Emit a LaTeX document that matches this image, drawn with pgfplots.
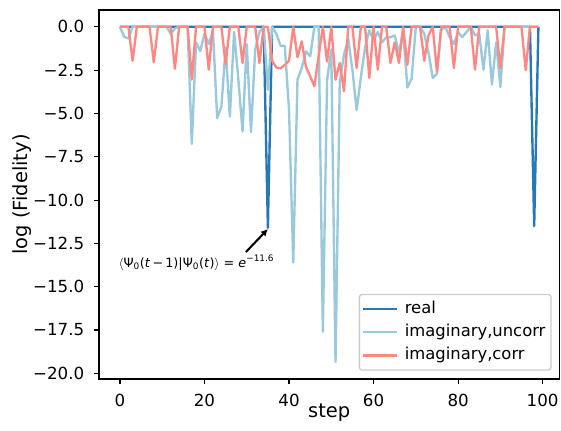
\documentclass[border=0pt]{standalone}
\usepackage{fontspec}
\setmainfont{DejaVu Sans}
\usepackage{pgfplots}
\usepackage{pgfplotstable}
\pgfplotsset{compat=1.18}
\usetikzlibrary{arrows.meta}
\definecolor{realc}{HTML}{2878B5}
\definecolor{uncc}{HTML}{9AC9DB}
\definecolor{corc}{HTML}{FF8884}

\pgfplotstableread{
s real uncorr corr
0 0 0 0
1 0 -0.58 0
2 0 -0.67 0
3 0 0 -1.96
4 0 0 0
5 0 0 0
6 0 0 0
7 0 0 0
8 0 0 -2.05
9 0 0 0
10 0 0 0
11 0 0 0
12 0 -0.4 0
13 0 -0.1 -2.42
14 0 0 0
15 0 0 0
16 0 0 0
17 0 -6.75 -3.05
18 0 -0.9 0
19 0 -1.4 0
20 0 -0.4 0
21 0 -1.0 -2.47
22 0 -0.2 0
23 0 -5.27 0
24 0 -4.6 0
25 0 -1.2 -2.15
26 0 -5.18 0
27 0 -0.3 0
28 0 -3.0 0
29 0 -6.04 -2.09
30 0 -1.0 0
31 0 -6.08 0
32 0 -1.3 0
33 0 -0.3 -2.09
34 0 0 0
35 -11.6 -3.64 0
36 0 0 -1.95
37 0 -0.4 -2.35
38 0 -1.1 -2.4
39 0 -1.1 -2.2
40 0 -4.8 -1.96
41 0 -13.6 0
42 0 -3.05 -1.76
43 0 -2.38 -0.84
44 0 -1.42 -2.3
45 0 -1.7 -2.86
46 0 0 -3.43
47 0 0 -1.7
48 0 -17.6 0
49 0 -3.07 -2.0
50 0 -1.3 0
51 0 -19.35 -3.05
52 0 -3.2 -2.09
53 0 -1.6 -3.72
54 0 -0.7 0
55 0 -2.5 0
56 0 -4.8 -2.38
57 0 -2.9 0
58 0 -1.2 0
59 0 -0.2 -2.95
60 0 -0.8 0
61 0 -0.3 -2.47
62 0 -0.9 0
63 0 -0.6 0
64 0 -0.6 -2.09
65 0 -0.5 -0.9
66 0 -1.5 -2.09
67 0 -0.3 0
68 0 -3.5 -2.19
69 0 -3.0 0
70 0 0 0
71 0 0 0
72 0 -0.4 -1.96
73 0 -1.5 -0.5
74 0 -2.95 0
75 0 -2.7 -2.6
76 0 -0.2 0
77 0 0 0
78 0 -0.6 0
79 0 -1.0 -2.38
80 0 -0.3 0
81 0 -0.6 0
82 0 -0.3 0
83 0 0 0
84 0 -0.5 -2.47
85 0 -0.4 0
86 0 -2.47 0
87 0 -0.2 0
88 0 -3.34 0
89 0 -0.9 0
90 0 -3.47 -2.4
91 0 0 0
92 0 0 0
93 0 0 0
94 0 0 0
95 0 0 0
96 0 0 -2.5
97 0 0 0
98 -11.5 0 0
99 0 0 0
}\datatable

\begin{document}
\begin{tikzpicture}
\useasboundingbox (-71.3pt,-37.4pt) rectangle (332.6pt,272.9pt);
\begin{axis}[
  at={(0,0)}, anchor=south west,
  width=331.4pt, height=265.7pt, scale only axis,
  xmin=-4.95, xmax=103.95, ymin=-20.33, ymax=0.97,
  axis line style={line width=0.8pt, black},
  tick style={line width=0.8pt, black},
  tick align=outside, major tick length=3.5pt,
  tick pos=left,
  xtick={0,20,40,60,80,100},
  xticklabels={0,20,40,60,80,100},
  ytick={-20,-17.5,-15,-12.5,-10,-7.5,-5,-2.5,0},
  yticklabels={−20.0,−17.5,−15.0,−12.5,−10.0,−7.5,−5.0,−2.5,0.0},
  ticklabel style={font=\fontsize{12}{14}\selectfont},
  xticklabel style={anchor=north, inner sep=0pt, yshift=-7pt},
  yticklabel style={anchor=east, inner sep=0pt, xshift=-7pt},
  xlabel={step}, ylabel={log (Fidelity)},
  every axis x label/.style={at={(axis description cs:0.5,-0.0677)}, anchor=north, inner sep=0pt, font=\fontsize{14}{17}\selectfont},
  every axis y label/.style={at={(axis description cs:-0.1672,0.5)}, anchor=center, rotate=90, inner sep=0pt, font=\fontsize{14}{17}\selectfont},
  legend cell align=left,
  legend image code/.code={\draw[#1] (0pt,0pt) -- (24pt,0pt); \path (27pt,0pt);},
  legend style={at={(1,0)}, anchor=south east, xshift=-5.5pt, yshift=6pt,
    draw=white!80!black, line width=1pt, rounded corners=2pt,
    fill=white, fill opacity=0.8, text opacity=1,
    font=\fontsize{11.8}{14}\selectfont,
    inner xsep=2pt, inner ysep=2pt, row sep=0pt,
    nodes={inner ysep=2.4pt, text height=9pt, text depth=3pt}},
  clip=true,
]
\addplot[realc, line width=1.7pt, line join=round] table[x=s,y=real]{\datatable};
\addlegendentry{real}
\addplot[uncc, line width=1.7pt, line join=round] table[x=s,y=uncorr]{\datatable};
\addlegendentry{imaginary,uncorr}
\addplot[corc, line width=1.7pt, line join=round] table[x=s,y=corr]{\datatable};
\addlegendentry{imaginary,corr}
\node[font=\fontsize{9.2}{11}\selectfont, inner sep=0pt] at (axis cs:18.1,-13.62)
  {$\langle$Ψ\textsubscript{0}(\textit{t}\,−\,1)|Ψ\textsubscript{0}(\textit{t})$\rangle$ = \textit{e}\textsuperscript{−11.6}};
\draw[-{Latex[length=5pt,width=5pt]}, line width=1.5pt, black] (axis cs:29.8,-13.0) -- (axis cs:35,-11.67);
\end{axis}
\end{tikzpicture}
\end{document}
